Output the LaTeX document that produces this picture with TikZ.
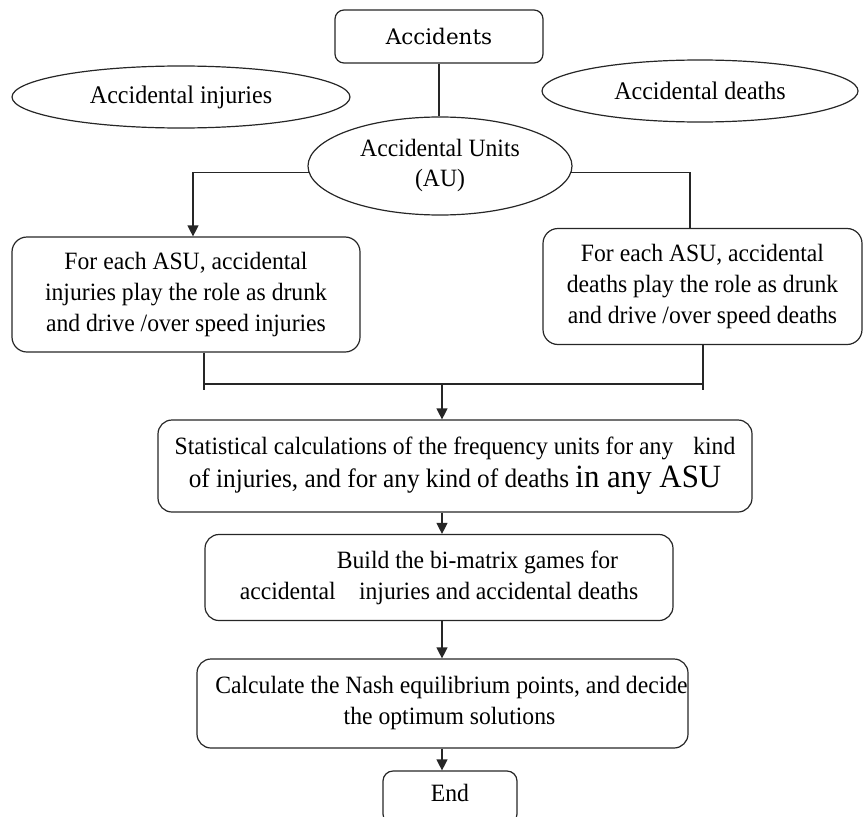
\documentclass[tikz,border=0pt]{standalone}
\usepackage{fontspec}
\setmainfont[FakeStretch=0.95]{Liberation Serif}
\newfontfamily\wideserif{DejaVu Serif}
\usetikzlibrary{arrows.meta,shapes.geometric,calc}
\begin{document}
\begin{tikzpicture}[x=1pt,y=-1pt,
  txt/.style={font=\fontsize{24.9}{31}\selectfont, text=black, align=center, inner sep=0pt},
  rbox/.style={txt, draw=black!85, line width=1.2pt, rounded corners=#1},
  ell/.style={txt, ellipse, draw=black!85, line width=1.2pt},
  conn/.style={draw=black!85, line width=1.2pt},
  arr/.style={conn, -{Triangle[width=11pt,length=11pt]}}
]
\clip (0,0) rectangle (864,816);
\node[rbox=9pt, minimum width=208pt, minimum height=53pt, font=\wideserif\fontsize{21.5}{26}\selectfont] (acc) at (439,36.5) {Accidents};
\node[ell, minimum width=338pt, minimum height=62pt, font=\fontsize{25.3}{31}\selectfont] (inj) at (181,97) {Accidental injuries};
\node[ell, minimum width=316pt, minimum height=62pt, font=\fontsize{25.3}{31}\selectfont] (dth) at (700,91) {Accidental deaths};
\node[ell, minimum width=264pt, minimum height=98pt, font=\fontsize{24.9}{30}\selectfont] (au) at (440,166) {Accidental Units\\(AU)};
\node[rbox=15pt, minimum width=348pt, minimum height=115pt] (lbox) at (186,294.5) {For each ASU, accidental\\injuries play the role as drunk\\and drive /over speed injuries};
\node[rbox=15pt, minimum width=319pt, minimum height=116pt] (rbox) at (702.5,286.5) {For each ASU, accidental\\deaths play the role as drunk\\and drive /over speed deaths};
\node[rbox=14pt, minimum width=594pt, minimum height=92pt] (stat) at (455,466) {Statistical calculations of the frequency units for any\hspace{0.8em}kind\\[2pt]{\fontsize{26.6}{31}\selectfont of injuries, and for any kind of deaths {\fontsize{32.5}{31}\selectfont in any ASU}}};
\node[rbox=14pt, minimum width=468pt, minimum height=86pt, align=left] (build) at (439,577.5) {\hspace*{97pt}Build the bi-matrix games for\\accidental\hspace{0.7em} injuries and accidental deaths};
\node[rbox=14pt, minimum width=491pt, minimum height=89pt] (calc) at (442.5,703.5) {\hspace*{18pt}Calculate the Nash equilibrium points, and decide\\\hspace*{14pt}the optimum solutions};
\node[rbox=10pt, minimum width=134pt, minimum height=53pt] (end) at (450,797.5) {\raisebox{10pt}{End}};
% connectors
\draw[conn] (acc.south) -- (acc.south |- au.north);
\draw[arr] (au.183.5) -| ($(lbox.north)+(7,0)$);
\draw[conn] (au.-3.5) -| ($(rbox.north)+(-12.5,0)$);
\coordinate (bl) at (204,384);
\coordinate (br) at (703,384);
\coordinate (bm) at (442,384);
\draw[conn] ($(lbox.south)+(18,0)$) -- ($(bl)+(0,6)$);
\draw[conn] (rbox.south -| br) -- ($(br)+(0,6)$);
\draw[conn] (bl) -- (br);
\draw[arr] (bm) -- (stat.north -| bm);
\draw[arr] (stat.south -| bm) -- (build.north -| bm);
\draw[arr] (build.south -| bm) -- (calc.north -| bm);
\draw[arr] (calc.south -| bm) -- (end.north -| bm);
\end{tikzpicture}
\end{document}
